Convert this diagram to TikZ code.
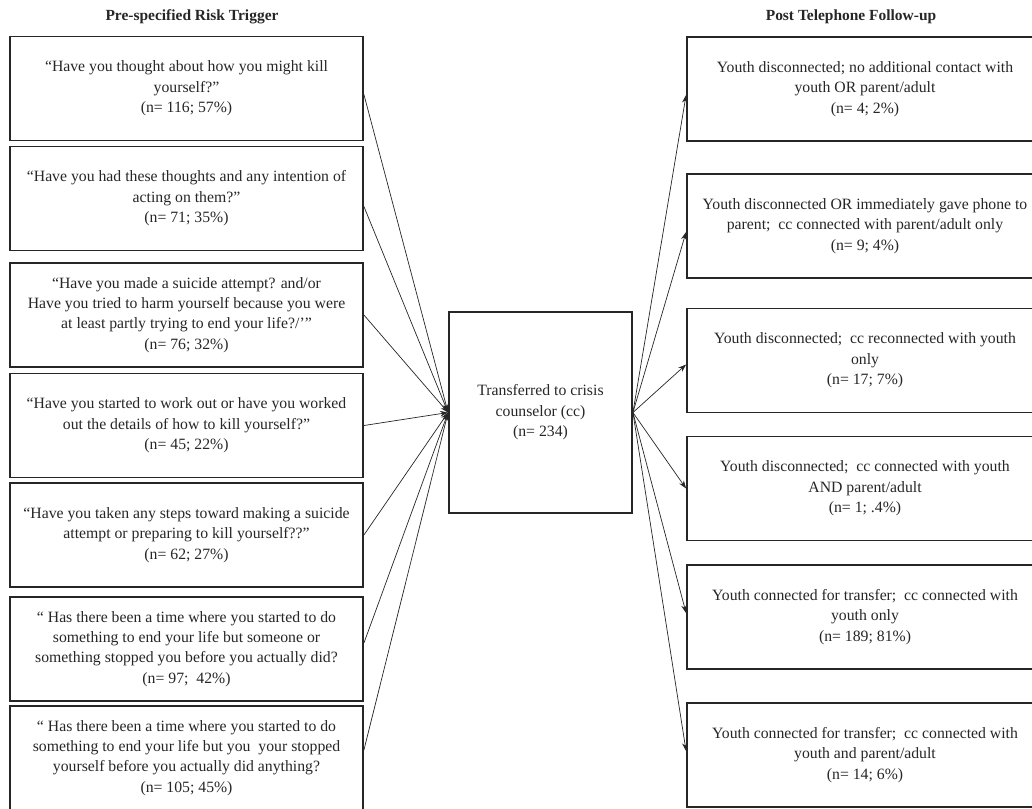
\documentclass[tikz,border=0pt]{standalone}
\usepackage{fontspec}
\setmainfont{Liberation Serif}
\usepackage{tikz}
\usetikzlibrary{arrows.meta}

\tikzset{
  boxtext/.style={font=\fontsize{11.2}{14.5}\selectfont, text=black!85, align=center},
  riskbox/.style={boxtext, shape=rectangle, draw=black!85, line width=1.3pt,
    minimum width=88.25mm, minimum height=26mm, inner sep=1pt},
  followbox/.style={riskbox, minimum width=89mm},
  centerbox/.style={riskbox, minimum width=45.75mm, minimum height=50.25mm},
  headtext/.style={font=\fontsize{11}{13}\selectfont\bfseries, text=black!85}
}

\begin{document}
\begin{tikzpicture}
            [->, >={Stealth[length=2mm, width=1.4mm]}, x=0.25mm, y=-0.25mm, line width=0.5pt, draw=black!85]
            \useasboundingbox (0,0) rectangle (1032,808);

            % column headings
            \node[headtext] (lhead) at (192,17) {Pre-specified Risk Trigger};
            \node[headtext] (rhead) at (851,17) {Post Telephone Follow-up};

            % risk triggers
            \node[riskbox] (l1) at (186.5,88.5) {``Have you thought about how you might kill\\yourself?''\\(n= 116; 57\%)};
            \node[riskbox] (l2) at (186.5,198.5) {``Have you had these thoughts and any intention of\\acting on them?''\\(n= 71; 35\%)};
            \node[riskbox] (l3) at (186.5,315) {``Have you made a suicide attempt? and/or\\Have you tried to harm yourself because you were\\at least partly trying to end your life?/’”\\(n= 76; 32\%)};
            \node[riskbox] (l4) at (186.5,425.5) {``Have you started to work out or have you worked\\out the details of how to kill yourself?''\\(n= 45; 22\%)};
            \node[riskbox] (l5) at (186.5,535) {``Have you taken any steps toward making a suicide\\attempt or preparing to kill yourself??''\\(n= 62; 27\%)};
            \node[riskbox] (l6) at (186.5,649) {`` Has there been a time where you started to do\\something to end your life but someone or\\something stopped you before you actually did?\\(n= 97;~ 42\%)};
            \node[riskbox] (l7) at (186.5,758) {`` Has there been a time where you started to do\\something to end your life but you~ your stopped\\yourself before you actually did anything?\\(n= 105; 45\%)};

            % crisis counselor
            \node[centerbox] (cc) at (540.5,412.5) {Transferred to crisis\\counselor (cc)\\(n= 234)};

            % follow-up
            \node[followbox] (f1) at (865,89) {Youth disconnected; no additional contact with\\youth OR parent/adult\\(n= 4; 2\%)};
            \node[followbox] (f2) at (865,226) {Youth disconnected OR immediately gave phone to\\parent;~ cc connected with parent/adult only\\(n= 9; 4\%)};
            \node[followbox] (f3) at (865,360.5) {Youth disconnected;~ cc reconnected with youth\\only\\(n= 17; 7\%)};
            \node[followbox] (f4) at (865,488.5) {Youth disconnected;~ cc connected with youth\\AND parent/adult\\(n= 1; .4\%)};
            \node[followbox] (f5) at (865,617) {Youth connected for transfer;~ cc connected with\\youth only\\(n= 189; 81\%)};
            \node[followbox] (f6) at (865,755) {Youth connected for transfer;~ cc connected with\\youth and parent/adult\\(n= 14; 6\%)};

            \path [->] ([yshift=-1.5mm]l1.east) edge (cc.west);
            \path [->] ([yshift=-2mm]l2.east) edge (cc.west);
            \path [->] (l3.east) edge (cc.west);
            \path [->] (l4.east) edge (cc.west);
            \path [->] (l5.east) edge (cc.west);
            \path [->] ([yshift=1.5mm]l6.east) edge (cc.west);
            \path [->] ([yshift=2mm]l7.east) edge (cc.west);

            \path [->] (cc.east) edge ([yshift=-1.5mm]f1.west);
            \path [->] (cc.east) edge ([yshift=-1.5mm]f2.west);
            \path [->] (cc.east) edge ([yshift=-1mm]f3.west);
            \path [->] (cc.east) edge (f4.west);
            \path [->] (cc.east) edge ([yshift=1mm]f5.west);
            \path [->] (cc.east) edge ([yshift=1mm]f6.west);
        \end{tikzpicture}
\end{document}
